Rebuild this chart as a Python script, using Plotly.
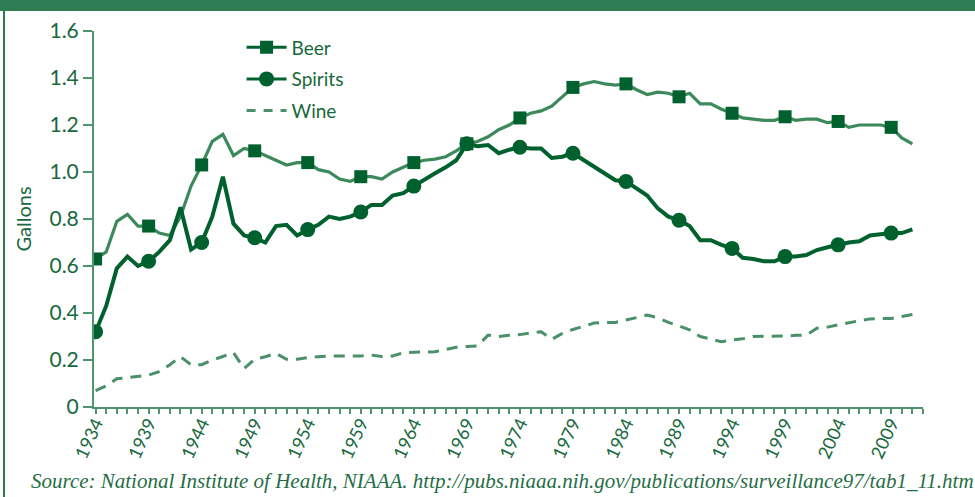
import plotly.graph_objects as go

years = list(range(1934, 2012))

beer = [0.63, 0.66, 0.79, 0.82, 0.77, 0.77, 0.74, 0.73, 0.81, 0.94,
        1.03, 1.13, 1.16, 1.07, 1.10, 1.09, 1.07, 1.05, 1.03, 1.04,
        1.04, 1.01, 1.00, 0.97, 0.96, 0.98, 0.98, 0.97, 1.00, 1.02,
        1.04, 1.05, 1.055, 1.065, 1.09, 1.12, 1.13, 1.15, 1.18, 1.20,
        1.23, 1.25, 1.26, 1.28, 1.32, 1.36, 1.375, 1.385, 1.375, 1.37,
        1.375, 1.35, 1.33, 1.34, 1.335, 1.32, 1.335, 1.29, 1.29, 1.267,
        1.25, 1.23, 1.225, 1.22, 1.22, 1.235, 1.22, 1.225, 1.225, 1.21,
        1.215, 1.19, 1.20, 1.20, 1.20, 1.19, 1.145, 1.12]

spirits = [0.32, 0.43, 0.59, 0.64, 0.60, 0.62, 0.66, 0.71, 0.85, 0.67,
           0.70, 0.81, 0.98, 0.78, 0.73, 0.72, 0.70, 0.77, 0.775, 0.73,
           0.755, 0.775, 0.81, 0.80, 0.81, 0.83, 0.86, 0.86, 0.90, 0.91,
           0.94, 0.97, 0.995, 1.02, 1.05, 1.12, 1.11, 1.115, 1.08, 1.095,
           1.105, 1.10, 1.10, 1.06, 1.065, 1.08, 1.05, 1.02, 0.99, 0.965,
           0.96, 0.93, 0.90, 0.845, 0.81, 0.795, 0.77, 0.71, 0.71, 0.69,
           0.675, 0.635, 0.63, 0.62, 0.62, 0.64, 0.64, 0.647, 0.668, 0.68,
           0.69, 0.70, 0.705, 0.73, 0.735, 0.74, 0.74, 0.756]

wine = [0.07, 0.09, 0.12, 0.126, 0.13, 0.136, 0.15, 0.18, 0.214, 0.18,
        0.18, 0.20, 0.215, 0.231, 0.164, 0.203, 0.214, 0.228, 0.203, 0.203,
        0.21, 0.214, 0.217, 0.217, 0.217, 0.217, 0.221, 0.215, 0.217, 0.231,
        0.233, 0.233, 0.235, 0.245, 0.254, 0.257, 0.26, 0.306, 0.30, 0.305,
        0.308, 0.315, 0.32, 0.288, 0.313, 0.33, 0.345, 0.357, 0.36, 0.36,
        0.37, 0.38, 0.391, 0.38, 0.36, 0.345, 0.328, 0.30, 0.29, 0.278,
        0.285, 0.29, 0.30, 0.30, 0.30, 0.302, 0.305, 0.306, 0.335, 0.34,
        0.35, 0.36, 0.367, 0.375, 0.377, 0.377, 0.385, 0.394]

y_ticks = [0, 0.2, 0.4, 0.6, 0.8, 1.0, 1.2, 1.4, 1.6]
y_labels = ["0", "0.2", "0.4", "0.6", "0.8", "1.0", "1.2", "1.4", "1.6"]
x_ticks = list(range(1934, 2012, 5))
marker_step = 5

DARK = "#00612f"
BEER_LINE = "#3c8a5c"
WINE = "#4a9068"
AXIS = "#4f9470"
TEXT = "#17683c"
FONT = "Lato"

fig = go.Figure()

fig.add_trace(go.Scatter(x=years, y=wine, mode="lines", showlegend=False,
                         line=dict(color=WINE, width=3, dash="11px,8px")))
fig.add_trace(go.Scatter(x=years, y=beer, mode="lines", showlegend=False,
                         line=dict(color=BEER_LINE, width=3.2)))
fig.add_trace(go.Scatter(x=years[::marker_step], y=beer[::marker_step], mode="markers",
                         showlegend=False,
                         marker=dict(symbol="square", size=13, color=DARK)))
fig.add_trace(go.Scatter(x=years, y=spirits, mode="lines", showlegend=False,
                         line=dict(color=DARK, width=4)))
fig.add_trace(go.Scatter(x=years[::marker_step], y=spirits[::marker_step], mode="markers",
                         showlegend=False,
                         marker=dict(symbol="circle", size=15, color=DARK)))

# legend entries
fig.add_trace(go.Scatter(x=[None], y=[None], mode="lines+markers", name="Beer",
                         legendgroup="b",
                         line=dict(color=DARK, width=3),
                         marker=dict(symbol="square", size=13, color=DARK)))
fig.add_trace(go.Scatter(x=[None], y=[None], mode="lines+markers", name="Spirits",
                         legendgroup="s",
                         line=dict(color=DARK, width=3),
                         marker=dict(symbol="circle", size=15, color=DARK)))
fig.add_trace(go.Scatter(x=[None], y=[None], mode="lines", name="Wine",
                         legendgroup="w",
                         line=dict(color=WINE, width=3, dash="9px,8px")))

fig.update_layout(
    width=975, height=497,
    margin=dict(l=94, r=52, t=31, b=90),
    paper_bgcolor="white", plot_bgcolor="white",
    font=dict(family=FONT, color=TEXT),
    showlegend=True,
    legend=dict(x=0.178, y=1.007, xanchor="left", yanchor="top",
                font=dict(size=19, color=TEXT, family=FONT),
                bgcolor="rgba(0,0,0,0)", tracegroupgap=4,
                itemwidth=40),
    xaxis=dict(range=[1933.85, 2012], tickmode="array", tickvals=x_ticks,
               ticktext=[str(v) for v in x_ticks], tickangle=-65,
               automargin=False, ticklabelstandoff=-8,
               showgrid=False, zeroline=False, showline=True,
               linecolor=AXIS, linewidth=2, ticks="outside", ticklen=5,
               tickwidth=2, tickcolor=AXIS,
               tickfont=dict(size=18, color=TEXT, family=FONT),
               minor=dict(dtick=1, tick0=1934, ticks="outside", ticklen=5,
                          tickwidth=2, tickcolor=AXIS, showgrid=False)),
    yaxis=dict(range=[0, 1.6], tickmode="array", tickvals=y_ticks, ticktext=y_labels,
               automargin=False,
               showgrid=False, zeroline=False, showline=True,
               linecolor=AXIS, linewidth=2, ticks="outside", ticklen=9,
               tickwidth=2, tickcolor=AXIS,
               tickfont=dict(size=21, color=TEXT, family=FONT),
               title=dict(text="Gallons", font=dict(size=20, color=TEXT, family=FONT),
                          standoff=12)),
    shapes=[
        dict(type="rect", xref="paper", yref="paper", x0=-0.2, x1=1.2,
             y0=(407 - 11) / 376, y1=1.2, fillcolor="#2e7d55", line=dict(width=0),
             layer="above"),
        dict(type="line", xref="paper", yref="paper", x0=-90 / 829, x1=-90 / 829,
             y0=-0.3, y1=1.2, line=dict(color="#2e7d55", width=2)),
    ],
    annotations=[
        dict(text="Source: National Institute of Health, NIAAA. http://pubs.niaaa.nih.gov/publications/surveillance97/tab1_11.htm",
             xref="paper", yref="paper", x=(29 - 94) / 829, y=(407 - 481) / 376,
             xanchor="left", yanchor="middle", showarrow=False,
             font=dict(family="Liberation Serif", size=21, color="#1f6e45",
                       style="italic"),
             ),
    ],
)

fig.write_html("out.html", config={"displayModeBar": False},
               post_script="document.body.style.margin='0px';document.body.style.overflow='hidden';")
